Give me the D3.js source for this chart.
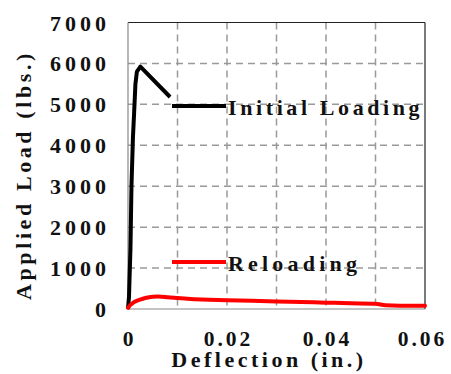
<!DOCTYPE html>
<html>
<head>
<meta charset="utf-8">
<script src="https://cdn.jsdelivr.net/npm/d3@7"></script>
<style>
  body { margin: 0; background: #fff; }
</style>
</head>
<body>
<svg id="chart" width="451" height="374"></svg>
<script>
// initial loading curve
const initDefl = [0, 0.0002, 0.0005, 0.0007, 0.0010, 0.0012, 0.0015, 0.0018, 0.0025, 0.0085];
const initLoad = [0, 300, 1500, 3000, 4200, 4700, 5500, 5800, 5920, 5180];
// reloading curve
const reDefl = [0, 0.0005, 0.001, 0.002, 0.003, 0.004, 0.005, 0.006, 0.008, 0.010, 0.012, 0.015, 0.020, 0.025, 0.030, 0.035, 0.040, 0.045, 0.050, 0.052, 0.055, 0.060];
const reLoad = [30, 100, 150, 210, 250, 280, 300, 305, 290, 270, 250, 230, 215, 200, 185, 170, 155, 140, 130, 90, 80, 80];

const xTicks = [0, 0.02, 0.04, 0.06];
const yTicks = [0, 1000, 2000, 3000, 4000, 5000, 6000, 7000];
const xGrid = [0.01, 0.02, 0.03, 0.04, 0.05];
const yGrid = [1000, 2000, 3000, 4000, 5000, 6000];

const legendNames = ["Initial Loading", "Reloading"];
const legendColors = ["#000", "#ff0000"];

const FONT = '"Liberation Serif", "Times New Roman", serif';

const svg = d3.select("#chart");
const pl = 128, pr = 425, pt = 22.5, pb = 309;

const x = d3.scaleLinear().domain([0, 0.06]).range([pl, pr]);
const y = d3.scaleLinear().domain([0, 7000]).range([pb, pt]);

function label(sel, size, spacing) {
  return sel.style("font-family", FONT).style("font-weight", "bold").attr("fill", "#111")
    .style("font-size", size + "px").style("letter-spacing", spacing + "px");
}

// grid
svg.selectAll(".vg").data(xGrid).enter().append("line")
  .attr("x1", d => x(d)).attr("x2", d => x(d))
  .attr("y1", pt).attr("y2", pb)
  .attr("stroke", "#999").attr("stroke-width", 1.5).attr("stroke-dasharray", "7,5");
svg.selectAll(".hg").data(yGrid).enter().append("line")
  .attr("x1", pl).attr("x2", pr)
  .attr("y1", d => y(d)).attr("y2", d => y(d))
  .attr("stroke", "#999").attr("stroke-width", 1.5).attr("stroke-dasharray", "7,5");

// frame
svg.append("line").attr("x1", pl).attr("x2", pr).attr("y1", pt).attr("y2", pt).attr("stroke", "#222").attr("stroke-width", 1.2);
svg.append("line").attr("x1", pr).attr("x2", pr).attr("y1", pt).attr("y2", pb).attr("stroke", "#222").attr("stroke-width", 1.2);
svg.append("line").attr("x1", pl).attr("x2", pr).attr("y1", pb).attr("y2", pb).attr("stroke", "#888").attr("stroke-width", 1.2);
svg.append("line").attr("x1", pl).attr("x2", pl).attr("y1", pt).attr("y2", pb).attr("stroke", "#888").attr("stroke-width", 1.2);

// tick labels
label(svg.selectAll(".yt").data(yTicks).enter().append("text"), 22, 4)
  .attr("x", 106 + 4).attr("y", d => y(d) + 8)
  .attr("text-anchor", "end")
  .text(d => d);
label(svg.selectAll(".xt").data(xTicks).enter().append("text"), 21.5, 3)
  .attr("x", d => Math.min(x(d), 421) + 1.5).attr("y", 346)
  .attr("text-anchor", "middle")
  .text(d => d === 0 ? "0" : d.toFixed(2));

// axis titles
label(svg.append("text"), 22, 3.5).attr("x", 269).attr("y", 367).attr("text-anchor", "middle")
  .text("Deflection (in.)");
label(svg.append("text"), 22, 3.6).attr("transform", "translate(31,175) rotate(-90)").attr("text-anchor", "middle")
  .text("Applied Load (lbs.)");

// curves
const line = d3.line().x(d => x(d[0])).y(d => y(d[1])).curve(d3.curveMonotoneX);
const lineInit = d3.line().x(d => x(d[0])).y(d => y(d[1]));
svg.append("path").datum(d3.zip(initDefl, initLoad)).attr("d", lineInit)
  .attr("fill", "none").attr("stroke", legendColors[0]).attr("stroke-width", 4).attr("stroke-linejoin", "round");
svg.append("path").datum(d3.zip(reDefl, reLoad)).attr("d", line)
  .attr("fill", "none").attr("stroke", legendColors[1]).attr("stroke-width", 4).attr("stroke-linecap", "round");

// legend
const legY = [106, 262];
const legSpacing = [3.6, 4.2];
legendNames.forEach((name, i) => {
  svg.append("line").attr("x1", 172).attr("x2", 226).attr("y1", legY[i]).attr("y2", legY[i])
    .attr("stroke", legendColors[i]).attr("stroke-width", 4);
  label(svg.append("text"), 22, legSpacing[i]).attr("x", 228).attr("y", legY[i] + 9)
    .text(name);
});
</script>
</body>
</html>
